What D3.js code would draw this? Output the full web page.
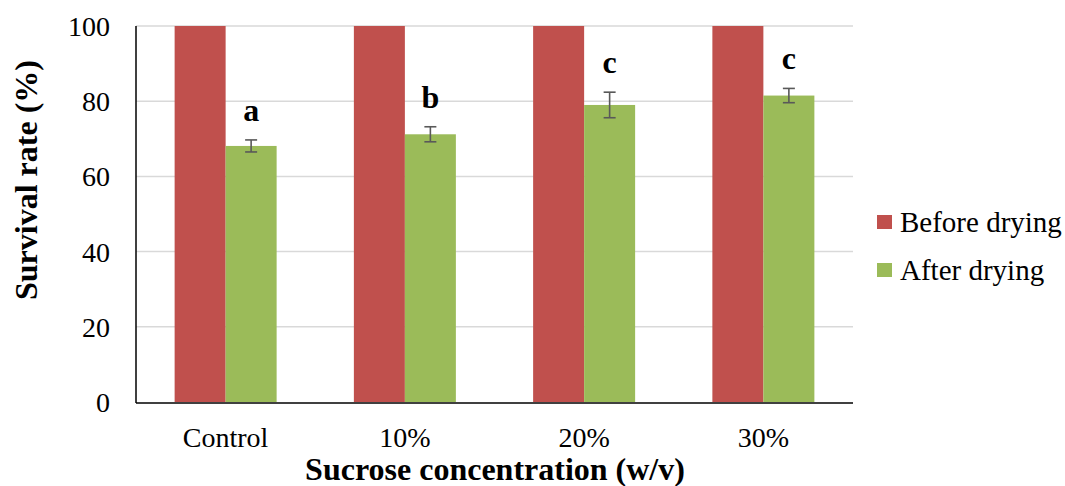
<!DOCTYPE html>
<meta charset="utf-8">
<style>
    body { margin: 0; background: #fff; }
    svg text { font-family: "Liberation Serif", "DejaVu Serif", serif; fill: #000; }
    .grid line { stroke: #d9d9d9; stroke-width: 1.5; }
    .tick-label { font-size: 28px; }
    .axis-title { font-size: 32px; font-weight: bold; }
    .letter { font-size: 32px; font-weight: bold; }
    .legend-text { font-size: 29px; }
</style>
<body>
<svg width="1065" height="486" font-family="Liberation Serif"></svg>
</body>
<script src="https://cdn.jsdelivr.net/npm/d3@7/dist/d3.min.js"></script>
<script>

    var categories = ["Control", "10%", "20%", "30%"];
    var seriesNames = ["Before drying", "After drying"];
    var beforeDrying = [100, 100, 100, 100];
    var afterDrying = [68.1, 71.2, 79.0, 81.5];
    var afterErrors = [1.6, 2.0, 3.4, 1.9];
    var letters = ["a", "b", "c", "c"];
    var yTicks = [0, 20, 40, 60, 80, 100];

    var colors = ["#c0504d", "#9bbb59"];

    var svg = d3.select("svg");

    var plotLeft = 136, plotRight = 853, plotTop = 26, plotBottom = 402;

    var x = d3.scaleBand()
        .domain(categories)
        .range([plotLeft, plotRight]);

    var x1 = d3.scaleBand()
        .domain(seriesNames)
        .range([0, 102]);

    var y = d3.scaleLinear()
        .domain([0, 100])
        .range([plotBottom, plotTop]);

    // gridlines
    svg.append("g")
        .attr("class", "grid")
        .selectAll("line")
        .data(yTicks.filter(function (d) { return d > 0; }))
        .enter().append("line")
        .attr("x1", plotLeft)
        .attr("x2", plotRight)
        .attr("y1", function (d) { return y(d); })
        .attr("y2", function (d) { return y(d); });

    var rows = categories.map(function (c, i) {
        return {cat: c, values: [beforeDrying[i], afterDrying[i]], err: afterErrors[i], letter: letters[i]};
    });

    var groups = svg.append("g")
        .selectAll("g")
        .data(rows)
        .enter().append("g")
        .attr("transform", function (d) {
            return "translate(" + (x(d.cat) + x.bandwidth() / 2 - 51) + ",0)";
        });

    groups.selectAll("rect")
        .data(function (d) { return d.values.map(function (v, j) { return {name: seriesNames[j], value: v, j: j}; }); })
        .enter().append("rect")
        .attr("x", function (d) { return x1(d.name); })
        .attr("width", x1.bandwidth())
        .attr("y", function (d) { return y(d.value); })
        .attr("height", function (d) { return y(0) - y(d.value); })
        .attr("fill", function (d) { return colors[d.j]; });

    // error bars on the after drying bars
    var cx = x1("After drying") + x1.bandwidth() / 2;
    var err = groups.append("g")
        .attr("stroke", "#595959")
        .attr("stroke-width", 1.6);
    err.append("line")
        .attr("x1", cx).attr("x2", cx)
        .attr("y1", function (d) { return y(d.values[1] + d.err); })
        .attr("y2", function (d) { return y(d.values[1] - d.err); });
    err.append("line")
        .attr("x1", cx - 6).attr("x2", cx + 6)
        .attr("y1", function (d) { return y(d.values[1] + d.err); })
        .attr("y2", function (d) { return y(d.values[1] + d.err); });
    err.append("line")
        .attr("x1", cx - 6).attr("x2", cx + 6)
        .attr("y1", function (d) { return y(d.values[1] - d.err); })
        .attr("y2", function (d) { return y(d.values[1] - d.err); });

    groups.append("text")
        .attr("class", "letter")
        .attr("x", cx)
        .attr("y", function (d) { return y(d.values[1] + d.err) - 19; })
        .attr("text-anchor", "middle")
        .text(function (d) { return d.letter; });

    // axes
    svg.append("line")
        .attr("x1", plotLeft).attr("x2", plotLeft)
        .attr("y1", plotTop).attr("y2", plotBottom + 1)
        .attr("stroke", "#000").attr("stroke-width", 1.5);
    svg.append("line")
        .attr("x1", plotLeft).attr("x2", plotRight)
        .attr("y1", plotBottom + 1).attr("y2", plotBottom + 1)
        .attr("stroke", "#000").attr("stroke-width", 1.5);

    svg.append("g")
        .selectAll("text")
        .data(yTicks)
        .enter().append("text")
        .attr("class", "tick-label")
        .attr("x", 110)
        .attr("y", function (d) { return y(d) + 10; })
        .attr("text-anchor", "end")
        .text(function (d) { return d; });

    svg.append("g")
        .selectAll("text")
        .data(categories)
        .enter().append("text")
        .attr("class", "tick-label")
        .attr("x", function (d) { return x(d) + x.bandwidth() / 2; })
        .attr("y", 447)
        .attr("text-anchor", "middle")
        .text(function (d) { return d; });

    svg.append("text")
        .attr("class", "axis-title")
        .attr("x", 495)
        .attr("y", 480)
        .attr("text-anchor", "middle")
        .text("Sucrose concentration (w/v)");

    svg.append("text")
        .attr("class", "axis-title")
        .attr("transform", "translate(37,180) rotate(-90)")
        .attr("text-anchor", "middle")
        .text("Survival rate (%)");

    // legend
    var legend = svg.append("g")
        .selectAll("g")
        .data(seriesNames)
        .enter().append("g")
        .attr("transform", function (d, i) { return "translate(877," + (215 + i * 48) + ")"; });

    legend.append("rect")
        .attr("width", 15)
        .attr("height", 14)
        .attr("fill", function (d, i) { return colors[i]; });

    legend.append("text")
        .attr("class", "legend-text")
        .attr("x", 23)
        .attr("y", 17)
        .text(function (d) { return d; });

</script>
